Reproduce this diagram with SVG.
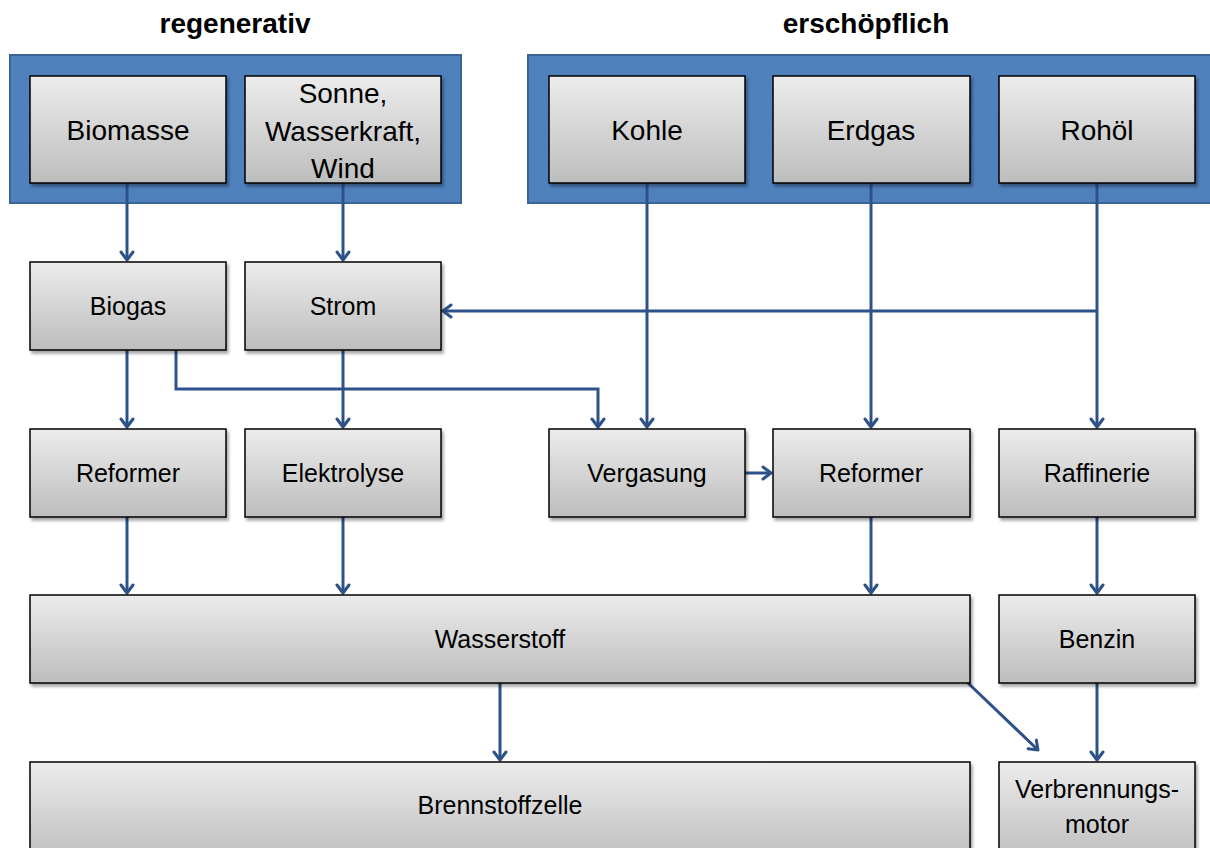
<svg xmlns="http://www.w3.org/2000/svg" width="1210" height="848" viewBox="0 0 1210 848">
<defs>
<linearGradient id="g" x1="0" y1="0" x2="0" y2="1">
<stop offset="0" stop-color="#ececec"/>
<stop offset="1" stop-color="#bdbdbd"/>
</linearGradient>
<filter id="sh" x="-10%" y="-10%" width="120%" height="130%">
<feDropShadow dx="2" dy="3" stdDeviation="1.5" flood-color="#000" flood-opacity="0.35"/>
</filter>
<marker id="ah" markerWidth="16" markerHeight="16" refX="14" refY="8" orient="auto" markerUnits="userSpaceOnUse">
<path d="M6,2 L14,8 L6,14" fill="none" stroke="#2c5289" stroke-width="3" stroke-linecap="round" stroke-linejoin="round"/>
</marker>
</defs>
<style>
.grp{fill:#4f81bd;stroke:#3b6496;stroke-width:2}
.box{fill:url(#g);stroke:#000;stroke-width:1.5;filter:url(#sh)}
.t{font-family:"Liberation Sans",Arial,sans-serif;font-size:25px;fill:#000;text-anchor:middle}
.tb{font-size:28px}
.h{font-family:"Liberation Sans",Arial,sans-serif;font-size:28px;font-weight:bold;fill:#000;text-anchor:middle}
.c{fill:none;stroke:#2c5289;stroke-width:3}
.a{marker-end:url(#ah)}
</style>
<rect width="1210" height="848" fill="#fff"/>
<text class="h" x="235" y="33">regenerativ</text>
<text class="h" x="866" y="33">erschöpflich</text>
<rect id="regenerativ" class="grp" x="10" y="55" width="451" height="148"/>
<rect id="erschoepflich" class="grp" x="528" y="55" width="690" height="148"/>
<g id="connectors">
<path class="c a" d="M127,183 V260"/>
<path class="c a" d="M343,183 V260"/>
<path class="c a" d="M647,183 V427"/>
<path class="c a" d="M871,183 V427"/>
<path class="c a" d="M1097,183 V427"/>
<path class="c a" d="M1097,311 H443"/>
<path class="c a" d="M127,350 V427"/>
<path class="c a" d="M176,350 V389 H598 V427"/>
<path class="c a" d="M343,350 V427"/>
<path class="c a" d="M745,473 H771"/>
<path class="c a" d="M127,517 V593"/>
<path class="c a" d="M343,517 V593"/>
<path class="c a" d="M871,517 V593"/>
<path class="c a" d="M1097,517 V593"/>
<path class="c a" d="M500,683 V760"/>
<path class="c a" d="M968,683 L1038,750"/>
<path class="c a" d="M1097,683 V760"/>
</g>
<g id="biomasse"><rect class="box" x="30" y="76" width="196" height="107"/><text class="t tb" x="128" y="140">Biomasse</text></g>
<g id="sonne"><rect class="box" x="245" y="76" width="196" height="107"/><text class="t tb" x="343" y="103">Sonne,</text><text class="t tb" x="343" y="141">Wasserkraft,</text><text class="t tb" x="343" y="178">Wind</text></g>
<g id="kohle"><rect class="box" x="549" y="76" width="196" height="107"/><text class="t tb" x="647" y="140">Kohle</text></g>
<g id="erdgas"><rect class="box" x="773" y="76" width="197" height="107"/><text class="t tb" x="871" y="140">Erdgas</text></g>
<g id="rohoel"><rect class="box" x="999" y="76" width="196" height="107"/><text class="t tb" x="1097" y="140">Rohöl</text></g>
<g id="biogas"><rect class="box" x="30" y="262" width="196" height="88"/><text class="t" x="128" y="315">Biogas</text></g>
<g id="strom"><rect class="box" x="245" y="262" width="196" height="88"/><text class="t" x="343" y="315">Strom</text></g>
<g id="reformer1"><rect class="box" x="30" y="429" width="196" height="88"/><text class="t" x="128" y="482">Reformer</text></g>
<g id="elektrolyse"><rect class="box" x="245" y="429" width="196" height="88"/><text class="t" x="343" y="482">Elektrolyse</text></g>
<g id="vergasung"><rect class="box" x="549" y="429" width="196" height="88"/><text class="t" x="647" y="482">Vergasung</text></g>
<g id="reformer2"><rect class="box" x="773" y="429" width="197" height="88"/><text class="t" x="871" y="482">Reformer</text></g>
<g id="raffinerie"><rect class="box" x="999" y="429" width="196" height="88"/><text class="t" x="1097" y="482">Raffinerie</text></g>
<g id="wasserstoff"><rect class="box" x="30" y="595" width="940" height="88"/><text class="t" x="500" y="648">Wasserstoff</text></g>
<g id="benzin"><rect class="box" x="999" y="595" width="196" height="88"/><text class="t" x="1097" y="648">Benzin</text></g>
<g id="brennstoffzelle"><rect class="box" x="30" y="762" width="940" height="100"/><text class="t" x="500" y="814">Brennstoffzelle</text></g>
<g id="verbrennungsmotor"><rect class="box" x="999" y="762" width="196" height="100"/><text class="t" x="1097" y="798">Verbrennungs-</text><text class="t" x="1097" y="833">motor</text></g>
</svg>
